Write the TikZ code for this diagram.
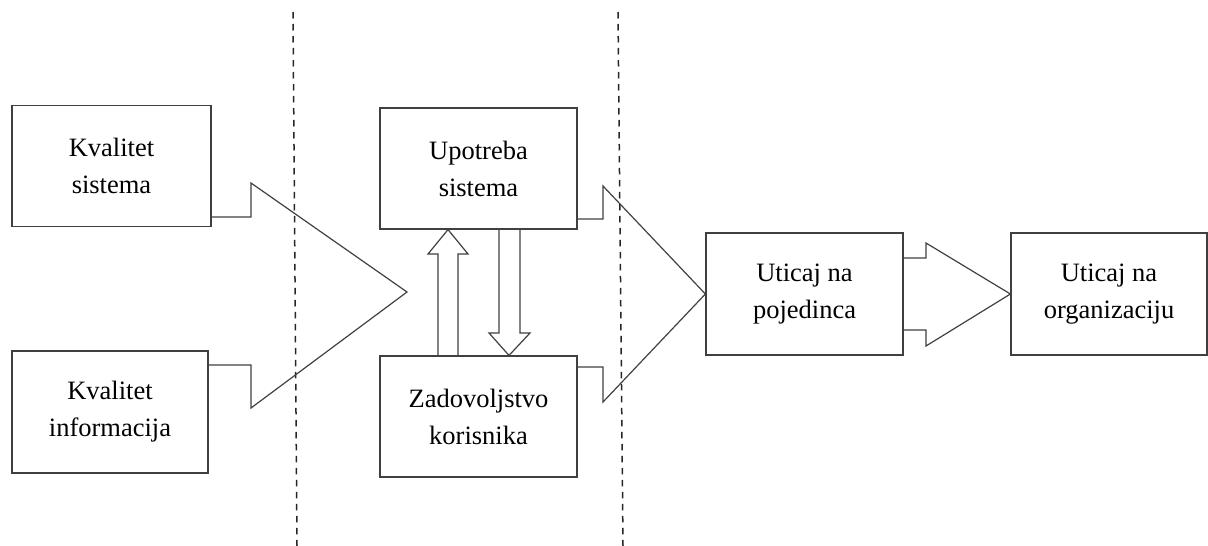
\documentclass[tikz,border=0pt]{standalone}
\usepackage{fontspec}
\setmainfont{Liberation Serif}
\begin{document}
\begin{tikzpicture}[x=1pt,y=-1pt,
  box/.style={draw=black!75, line width=1.2pt, align=center, inner sep=0pt,
    font=\fontsize{26.5}{37}\selectfont},
  bigarrow/.style={draw=black!75, line width=1.2pt, line join=miter},
  divider/.style={draw=black!85, line width=1.5pt, dash pattern=on 6.5pt off 5.5pt}]
\useasboundingbox (0,0) rectangle (1208,546);
% boxes
\node[box, minimum width=199pt, minimum height=121pt] (b1) at (111.5,166) {Kvalitet\\sistema};
\node[box, minimum width=196pt, minimum height=122pt] (b2) at (110,412) {Kvalitet\\informacija};
\node[box, minimum width=197pt, minimum height=121pt] (b3) at (378.5+100,168.5) {Upotreba\\sistema};
\node[box, minimum width=197pt, minimum height=121pt] (b4) at (478.5,416.5) {Zadovoljstvo\\korisnika};
\node[box, minimum width=197pt, minimum height=122pt] (b5) at (804.5,294) {Uticaj na\\pojedinca};
\node[box, minimum width=196pt, minimum height=122pt] (b6) at (1109,294) {Uticaj na\\organizaciju};
% dividers
\coordinate (d1t) at (293,12); \coordinate (d1b) at (297,546);
\coordinate (d2t) at (618,12); \coordinate (d2b) at (623,546);
\draw[divider] (d1t) -- (d1b);
\draw[divider] (d2t) -- (d2b);
% left big arrow
\coordinate (tip1) at (407,292);
\draw[bigarrow] (b1.east |- 0,217) -- (251,217) -- (251,183) -- (tip1)
  -- (251,408) -- (251,365) -- (b2.east |- 0,365);
% middle big arrow
\draw[bigarrow] (b3.east |- 0,219) -- (603,219) -- (603,186) -- (b5.west)
  -- (603,402) -- (603,367) -- (b4.east |- 0,367);
% right big arrow
\draw[bigarrow] (b5.east |- 0,258) -- (926,258) -- (926,243) -- (b6.west)
  -- (926,346) -- (926,330) -- (b5.east |- 0,330);
% hollow up arrow (b4 -> b3)
\draw[bigarrow] (b4.north -| 438,0) -- (438,254) -- (428,254) -- (b3.south -| 448,0)
  -- (468,254) -- (458,254) -- (b4.north -| 458,0);
% hollow down arrow (b3 -> b4)
\draw[bigarrow] (b3.south -| 499,0) -- (499,333) -- (489,333) -- (b4.north -| 509,0)
  -- (530,333) -- (520,333) -- (b3.south -| 520,0);
\end{tikzpicture}
\end{document}
